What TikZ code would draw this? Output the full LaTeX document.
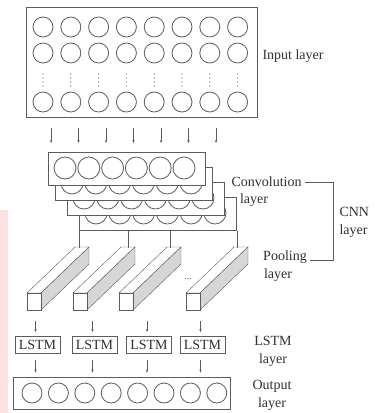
\documentclass[tikz,border=0pt]{standalone}
\usepackage{fontspec}
\setmainfont{Liberation Serif}
\usetikzlibrary{arrows.meta,calc,positioning}
\definecolor{edge}{HTML}{5C5C5C}
\definecolor{shade}{HTML}{D6D6D6}
\definecolor{blush}{HTML}{FDE2E2}
\definecolor{ink}{HTML}{303030}
\tikzset{>={Stealth[length=3pt,width=2.4pt]},line width=.8pt,
  every node/.style={font=\fontsize{14}{18}\selectfont,text=ink},
  layerbox/.style={draw=edge,fill=white,line width=.9pt,inner sep=0pt},
  unit/.style={draw=edge,line width=.8pt},
  link/.style={->,draw=edge,line width=.7pt},
  wire/.style={draw=edge,line width=.8pt},
  cellbox/.style={draw=edge,line width=.9pt,inner sep=1pt,minimum width=45pt,minimum height=17pt},
  tag/.style={align=center}}
\begin{document}
\begin{tikzpicture}[x=1pt,y=-1pt]
\useasboundingbox (0,0) rectangle (377,413);
\fill[blush] (0,210) rectangle (8,413);
% input layer
\node[layerbox,anchor=north west,minimum width=231pt,minimum height=110pt] (input) at (26,7) {};
\foreach \i in {0,...,7}{
  \foreach \r in {27,53,102} \draw[unit] (43+27.8*\i,\r) circle (10);
  \foreach \d in {74,78,82,86} \fill[edge] (43+27.8*\i,\d) circle (.6);
}
\node[tag,anchor=west] (inputlab) at (259,56) {Input layer};
% convolution maps, back to front
\foreach \dx/\dy/\n in {31/45/4,19/30/3,7/15/2,0/0/1}{
  \node[layerbox,anchor=north west,minimum width=157pt,minimum height=33pt] (conv\n) at (48+\dx,152+\dy) {};
  \foreach \i in {0,...,5} \draw[unit] (65+\dx+23.8*\i,168+\dy) circle (11);
}
\foreach \i in {0,...,6}
  \draw[link,shorten <=10pt,shorten >=9pt] ($(input.south west)+(25+27.5*\i,0)$) -- ($(conv1.north west)+(3+27.5*\i,0)$);
% pooling prisms
\foreach \x/\n in {27/1,73/2,119/3,186/4}{
  \filldraw[fill=white,draw=edge] (\x,293) -- ++(48,-46) -- ++(14,0) -- ++(-48,46) -- cycle;
  \filldraw[fill=shade,draw=edge] (\x+14,293) -- ++(48,-46) -- ++(0,17) -- ++(-48,46) -- cycle;
  \filldraw[fill=white,draw=edge] (\x,293) rectangle ++(14,17);
  \coordinate (pool\n) at (\x+7,310);
}
\draw[wire] (conv4.south west) -- ++(0,17);
\draw[wire] ($(conv4.south west)+(49,0)$) -- ++(0,17);
\draw[wire] ($(conv4.south west)+(91,0)$) -- ++(0,17);
\draw[wire] (conv4.south east) -- ++(0,17);
\node[font=\fontsize{9}{10}\selectfont,anchor=base] (more) at (188,279) {...};
% lstm and output
\node[layerbox,minimum width=217pt,minimum height=32pt] (output) at (121.5,393) {};
\foreach \i in {0,...,7} \draw[unit] (32+26.4*\i,393) circle (10);
\foreach \x/\n in {37.5/1,94.5/2,149/3,202.5/4}{
  \node[cellbox] (lstm\n) at (\x,345) {LSTM};
  \draw[link,shorten <=11pt,shorten >=4pt] ([xshift=-2pt]lstm\n.north |- pool\n) -- ([xshift=-2pt]lstm\n.north);
  \draw[link,shorten <=6pt,shorten >=4pt] ([xshift=-2pt]lstm\n.south) -- ([xshift=-2pt]lstm\n.south |- output.north);
}
% labels
\node[tag,anchor=west] (convtxt) at (228,182) {Convolution};
\node[tag] (convlay) at (254,200) {layer};
\node[tag] (pooltxt) at (285,257) {Pooling};
\node[tag] (poollay) at (278,275) {layer};
\node[align=left,anchor=west] (cnnlab) at (336,222) {CNN\\layer};
\draw[wire] (convtxt.east) -| ([xshift=-3pt]cnnlab.west |- pooltxt.base east) -- (pooltxt.base east);
\node[tag] (lstmlab) at (273,351) {LSTM\\layer};
\node[tag] (outlab) at (272,395) {Output\\layer};
\end{tikzpicture}
\end{document}
